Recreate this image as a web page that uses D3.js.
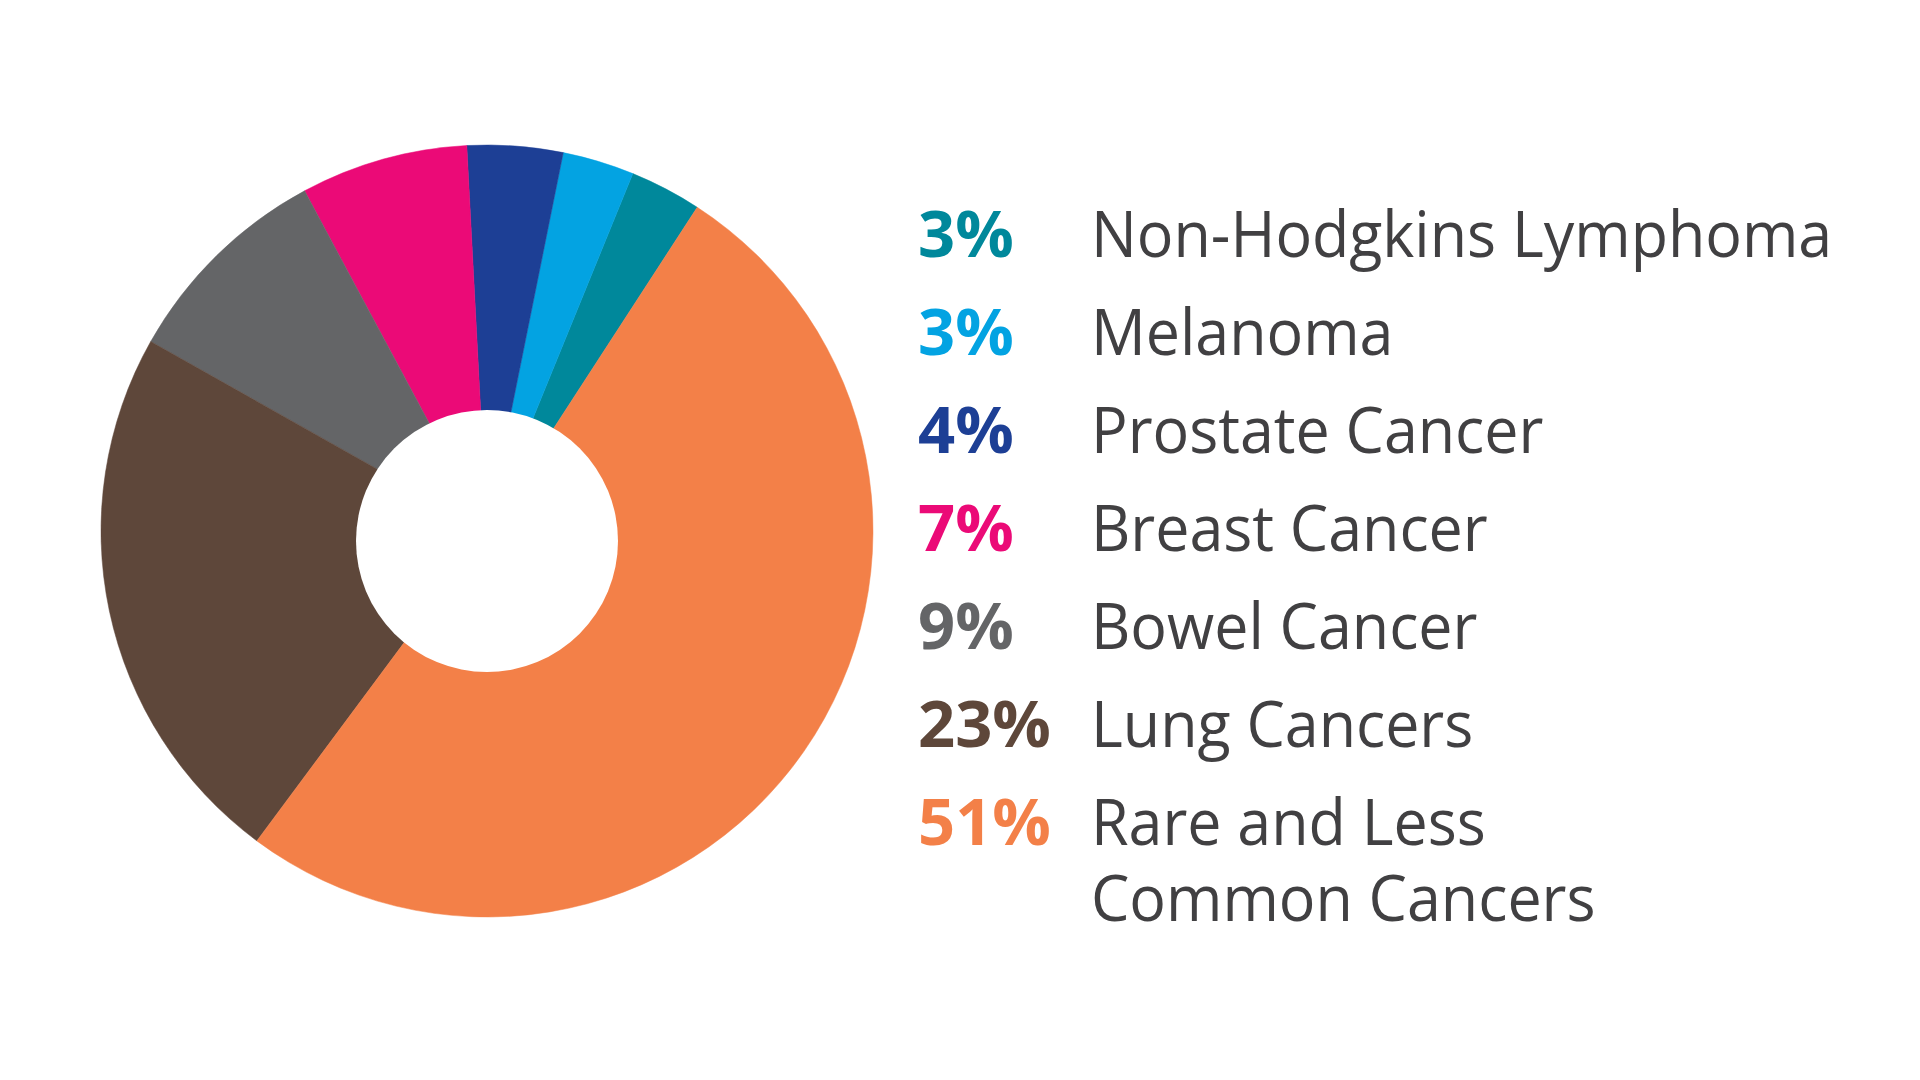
<!DOCTYPE html>
<html>
<head>
<meta charset="utf-8">
<script src="https://cdn.jsdelivr.net/npm/d3@7"></script>
<style>
  html, body { margin: 0; padding: 0; background: #ffffff; }
  svg { display: block; }
</style>
</head>
<body>
<svg id="chart" width="1920" height="1080"></svg>
<script>
// Data (legend order, top to bottom)
const categories = ["Non-Hodgkins Lymphoma", "Melanoma", "Prostate Cancer", "Breast Cancer", "Bowel Cancer", "Lung Cancers", "Rare and Less|Common Cancers"];
const values = [3, 3, 4, 7, 9, 23, 51];
const percentLabels = ["3%", "3%", "4%", "7%", "9%", "23%", "51%"];
const colors = ["#00889b", "#03a3e2", "#1d3f95", "#eb0a77", "#646567", "#5e473a", "#f38048"];

const svg = d3.select("#chart");
const cx = 487, cy = 531, outerR = 386, holeR = 131, holeOffsetY = 10;

const startDeg = 33.0;
const pie = d3.pie().sort(null).value(d => d)
  .startAngle(startDeg * Math.PI / 180)
  .endAngle((startDeg - 360) * Math.PI / 180);
const arc = d3.arc().innerRadius(0).outerRadius(outerR);

const g = svg.append("g").attr("transform", `translate(${cx},${cy})`);
g.selectAll("path.slice")
  .data(pie(values))
  .join("path")
  .attr("class", "slice")
  .attr("d", arc)
  .attr("fill", (d, i) => colors[i])
  .attr("stroke", (d, i) => colors[i])
  .attr("stroke-width", 0.5);

g.append("circle")
  .attr("cx", 0).attr("cy", holeOffsetY)
  .attr("r", holeR)
  .attr("fill", "#ffffff");

// Legend
const rowY = d3.scalePoint().domain(d3.range(categories.length)).range([257, 845]);
const pctX = 918, nameX = 1091;
const fontSize = 64;

const leg = svg.append("g");
categories.forEach((cat, i) => {
  const y = rowY(i);
  leg.append("text")
    .attr("x", pctX).attr("y", y)
    .attr("font-family", "'Open Sans', 'Noto Sans', sans-serif")
    .attr("font-weight", 700)
    .attr("font-size", 65)
    .attr("fill", colors[i])
    .text(percentLabels[i]);
  const lines = cat.split("|");
  const ng = leg.append("g")
    .attr("transform", `translate(${nameX},${y}) scale(0.952,1)`);
  lines.forEach((ln, j) => {
    ng.append("text")
      .attr("x", 0).attr("y", j * 76)
      .attr("font-family", "'Open Sans', 'Noto Sans', sans-serif")
      .attr("font-size", fontSize)
      .attr("fill", "#414042")
      .text(ln);
  });
});
</script>
</body>
</html>
